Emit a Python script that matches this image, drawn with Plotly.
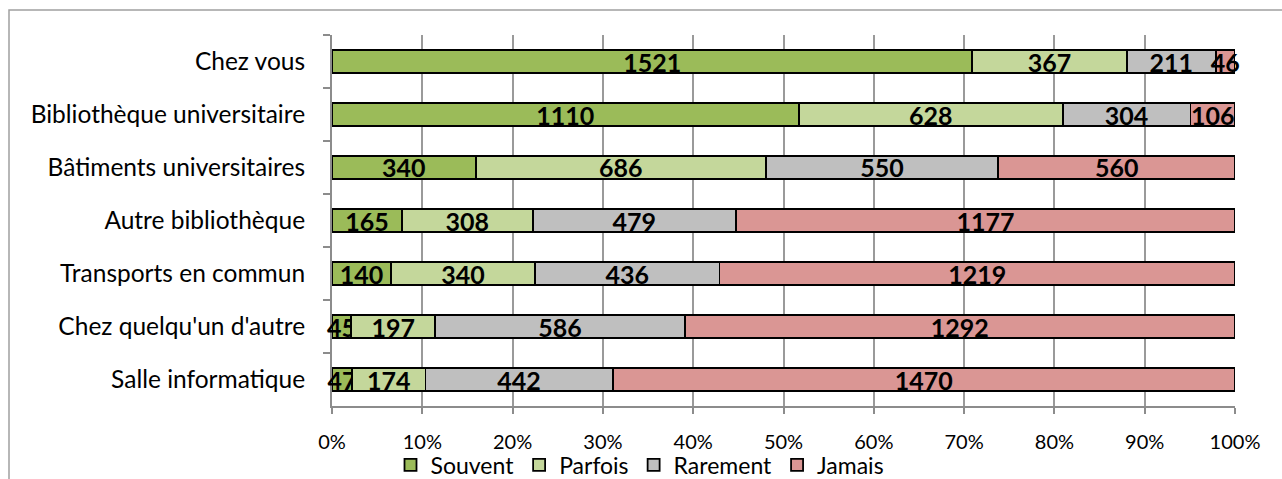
import plotly.graph_objects as go

categories = ["Chez vous", "Bibliothèque universitaire", "Bâtiments universitaires",
              "Autre bibliothèque", "Transports en commun", "Chez quelqu'un d'autre",
              "Salle informatique"]
souvent = [1521, 1110, 340, 165, 140, 45, 47]
parfois = [367, 628, 686, 308, 340, 197, 174]
rarement = [211, 304, 550, 479, 436, 586, 442]
jamais = [46, 106, 560, 1177, 1219, 1292, 1470]

series = [
    ("Souvent", souvent, "#9BBB59"),
    ("Parfois", parfois, "#C4D79B"),
    ("Rarement", rarement, "#BFBFBF"),
    ("Jamais", jamais, "#DA9694"),
]

FONT = "Lato, Noto Sans, sans-serif"

fig = go.Figure()
for name, vals, color in series:
    fig.add_trace(go.Bar(
        y=categories, x=vals, name=name, orientation="h",
        marker=dict(color=color, line=dict(color="#000000", width=1.8)),
        text=[str(v) for v in vals], textposition="inside",
        insidetextanchor="middle", constraintext="none", cliponaxis=False,
        textfont=dict(family=FONT, size=25, color="#000000", weight="bold"),
        hoverinfo="skip",
    ))

W, H = 1282, 479
l, r, t, b = 332, 47, 35, 73
pw, ph = W - l - r, H - t - b

def px(x):
    return (x - l) / pw

def py(y):
    return (H - b - y) / ph

fig.update_layout(
    barmode="stack", barnorm="percent", bargap=0.57,
    width=W, height=H,
    margin=dict(l=l, r=r, t=t, b=b, pad=0, autoexpand=False),
    paper_bgcolor="#FFFFFF", plot_bgcolor="#FFFFFF",
    font=dict(family=FONT, size=22, color="#000000"),
    legend=dict(orientation="h", x=px(640), xanchor="center", y=py(465), yanchor="middle",
                font=dict(size=23), traceorder="normal", itemwidth=30,
                bgcolor="rgba(0,0,0,0)"),
    shapes=[dict(type="rect", xref="paper", yref="paper",
                 x0=px(9), x1=px(1300), y0=py(10), y1=py(500),
                 line=dict(color="#A0A0A0", width=1.5), layer="below")],
)
fig.update_xaxes(range=[0, 100.0001], tickvals=list(range(0, 101, 10)),
                 ticktext=[f"{v}%" for v in range(0, 101, 10)], showgrid=True,
                 gridcolor="#9A9A9A", gridwidth=1.5, showline=True, linecolor="#8C8C8C",
                 linewidth=2, ticks="outside", ticklen=6, tickcolor="#8C8C8C",
                 tickwidth=2, zeroline=False, tickfont=dict(size=20), ticklabelstandoff=11)
fig.update_yaxes(autorange="reversed", showline=True, linecolor="#8C8C8C", linewidth=2,
                 ticks="outside", tickson="boundaries", ticklen=7, tickcolor="#8C8C8C",
                 tickwidth=2, showgrid=False, tickfont=dict(size=24.5), ticklabelstandoff=20,
                 layer="below traces")

fig.write_html("out.html", config={"displayModeBar": False},
               post_script="document.body.style.margin='0';document.body.style.overflow='hidden';")
